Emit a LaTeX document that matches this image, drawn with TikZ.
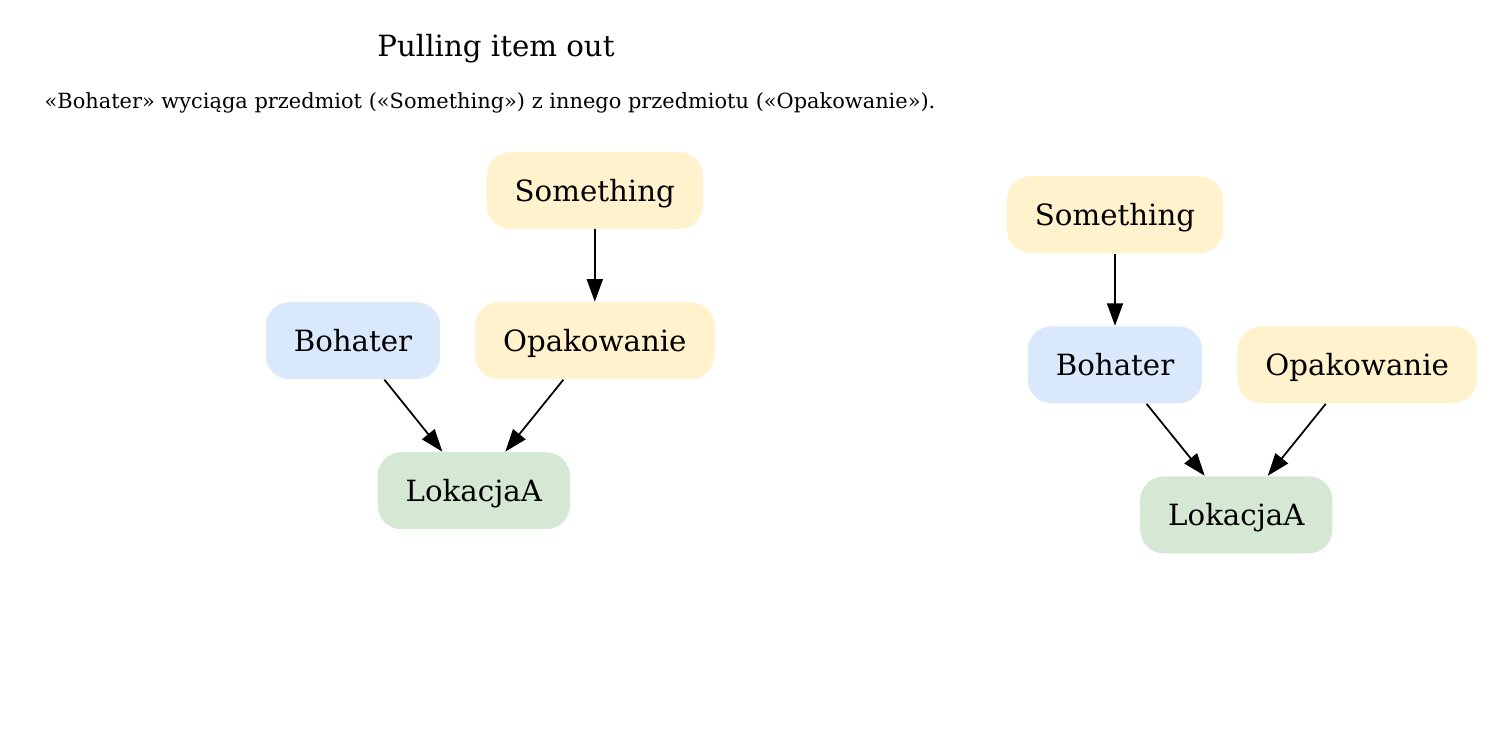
\documentclass[tikz,border=0pt]{standalone}
\usepackage{fontspec}
\setmainfont{DejaVu Serif}
\usetikzlibrary{arrows.meta}
\definecolor{itemfill}{HTML}{FFF2CC}
\definecolor{herofill}{HTML}{DAE8FC}
\definecolor{placefill}{HTML}{D5E8D4}

\begin{document}
\begin{tikzpicture}[x=0.4pt, y=-0.4pt, >={Triangle[length=9pt,width=6.4pt]},
  nodebox/.style={rectangle, rounded corners=9.5pt, inner xsep=11.2pt, inner ysep=0pt,
    minimum height=30.8pt, text height=8.5pt, text depth=0pt, font=\fontsize{11.7}{14}\selectfont},
  itembox/.style={nodebox, fill=itemfill},
  herobox/.style={nodebox, fill=herofill},
  placebox/.style={nodebox, fill=placefill}]
  \useasboundingbox (0,0) rectangle (1503,731);
  \node[anchor=base, font=\fontsize{11.7}{14}\selectfont] (title) at (496,56.7) {Pulling item out};
  \node[anchor=base, font=\fontsize{8.36}{10}\selectfont] (subtitle) at (490,109)
    {«Bohater» wyciąga przedmiot («Something») z innego przedmiotu («Opakowanie»).};
  % before: the item sits inside the wrapping
  \node[itembox] (smthL) at (594.8,190.5) {Something};
  \node[herobox] (bohL) at (353,340.7) {Bohater};
  \node[itembox] (opakL) at (594.8,340.7) {Opakowanie};
  \node[placebox] (lokL) at (473.8,490.7) {LokacjaA};
  % after: the hero holds the item
  \node[itembox] (smthR) at (1115,214.7) {Something};
  \node[herobox] (bohR) at (1115,364.8) {Bohater};
  \node[itembox] (opakR) at (1357.2,364.8) {Opakowanie};
  \node[placebox] (lokR) at (1236.3,514.8) {LokacjaA};
  \foreach \a/\b in {smthL/opakL, bohL/lokL, opakL/lokL, smthR/bohR, bohR/lokR, opakR/lokR}{
    \draw[->, line width=0.7pt] (\a) -- (\b);
  }
\end{tikzpicture}
\end{document}
